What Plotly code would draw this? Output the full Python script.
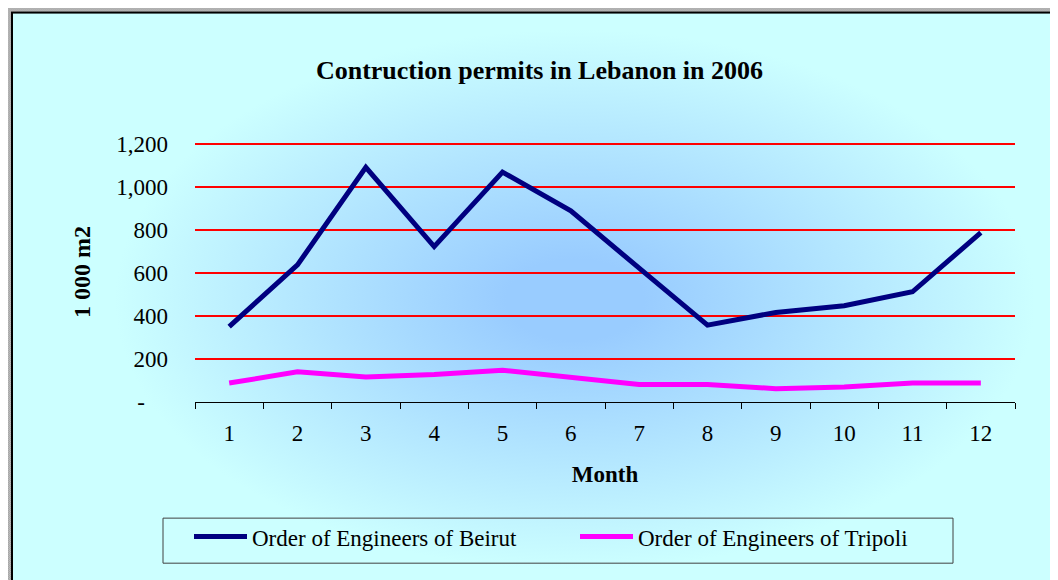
import base64
import plotly.graph_objects as go

# Data (1 000 m2 per month)
months = ['1', '2', '3', '4', '5', '6', '7', '8', '9', '10', '11', '12']
beirut = [350, 637, 1090, 722, 1068, 888, 622, 357, 416, 447, 512, 787]
tripoli = [88, 140, 116, 128, 148, 114, 81, 81, 62, 70, 88, 88]

y_ticks = [0, 200, 400, 600, 800, 1000, 1200]
y_labels = ['-\u00a0\u00a0\u00a0\u00a0', '200', '400', '600', '800', '1,000', '1,200']
y_max = 1208  # a touch above 1,200 so plotly keeps the top gridline

# page has an 8px body margin, so layout is laid out 8px up/left
OFF = 8
W, H = 1058, 580
ph = 258 * y_max / 1200
L = 195 - OFF
B = H - (402 - OFF)
T = H - B - ph
R = W - (1015 - OFF)
pw = W - L - R

FONT = 'Liberation Serif, Times New Roman, serif'


def px(x):
    return (x - OFF - L) / pw


def py(y):
    return 1 - (y - OFF - T) / ph


# Background: Excel-style sheet border + cyan chart area with a radial gradient
svg = f'''<svg xmlns="http://www.w3.org/2000/svg" width="{W}" height="{H}" viewBox="0 0 {W} {H}" preserveAspectRatio="none">
<defs>
<pattern id="chk" width="2" height="2" patternUnits="userSpaceOnUse">
<rect width="2" height="2" fill="#bdbdbd"/><rect width="1" height="1" fill="#a4a4a4"/><rect x="1" y="1" width="1" height="1" fill="#a4a4a4"/>
</pattern>
<pattern id="cells" width="30" height="20" patternUnits="userSpaceOnUse">
<rect width="30" height="20" fill="#f4f4f4"/><path d="M0,0.5H30M0.5,0V20" stroke="#dcdcdc" stroke-width="1"/>
</pattern>
<radialGradient id="grad" cx="0.5" cy="0.5" r="0.5">
<stop offset="0" stop-color="#99ccff"/><stop offset="0.15" stop-color="#99ccff"/><stop offset="1" stop-color="#ccffff"/>
</radialGradient>
</defs>
<g transform="translate(-{OFF},-{OFF})">
<rect width="{W + OFF}" height="{H + OFF}" fill="url(#cells)"/>
<rect x="3" y="4" width="{W + OFF}" height="{H + OFF}" fill="url(#chk)"/>
<rect x="12" y="13" width="{W + OFF}" height="{H + OFF}" fill="#ccffff" stroke="#000000" stroke-width="2"/>
<rect x="115" y="30" width="920" height="540" fill="url(#grad)"/>
</g>
</svg>'''
bg_src = 'data:image/svg+xml;base64,' + base64.b64encode(svg.encode()).decode()

fig = go.Figure()

fig.add_trace(go.Scatter(x=months, y=beirut, mode='lines',
                         name='Order of Engineers of Beirut',
                         line=dict(color='#000080', width=5)))
fig.add_trace(go.Scatter(x=months, y=tripoli, mode='lines',
                         name='Order of Engineers of Tripoli',
                         line=dict(color='#ff00ff', width=5)))

fig.update_layout(
    width=W, height=H,
    margin=dict(l=L, r=R, t=T, b=B),
    paper_bgcolor='#f4f4f4',
    plot_bgcolor='rgba(0,0,0,0)',
    font=dict(family=FONT, size=23, color='#000000'),
    title=dict(text='<b>Contruction permits in Lebanon in 2006</b>',
               font=dict(family=FONT, size=26, color='#000000'),
               x=(539.5 - OFF) / W, xanchor='center', y=1 - (70 - OFF) / H, yanchor='middle'),
    xaxis=dict(
        type='category', range=[-0.5, 11.5],
        showgrid=False,
        showline=True, linecolor='#000000', linewidth=1,
        ticks='outside', tickson='boundaries', ticklen=6, tickcolor='#000000',
        ticklabelstandoff=10,
        title=dict(text='<b>Month</b>', standoff=21,
                   font=dict(family=FONT, size=23)),
    ),
    yaxis=dict(
        range=[0, y_max],
        tickvals=y_ticks, ticktext=y_labels,
        showgrid=True, gridcolor='#ff0000', gridwidth=2,
        zeroline=False, showline=False,
        ticks='', ticklabelstandoff=26,
        title=dict(text='<b>1 000 m2</b>', standoff=18,
                   font=dict(family=FONT, size=24)),
    ),
    legend=dict(
        orientation='h',
        x=px(189), xanchor='left',
        y=py(515), yanchor='top',
        bgcolor='rgba(0,0,0,0)',
        borderwidth=0,
        font=dict(family=FONT, size=23),
        itemwidth=53,
        entrywidth=318, entrywidthmode='pixels',
    ),
    # legend frame
    shapes=[dict(type='rect', xref='paper', yref='paper',
                 x0=px(163), x1=px(953), y0=py(563), y1=py(518),
                 line=dict(color='#404040', width=1), fillcolor='rgba(0,0,0,0)',
                 layer='above')],
    images=[dict(source=bg_src, xref='paper', yref='paper',
                 x=-L / pw, y=1 + T / ph, sizex=W / pw, sizey=H / ph,
                 xanchor='left', yanchor='top', sizing='stretch', layer='below')],
    showlegend=True,
    hovermode=False,
)

fig.write_html('out.html')
